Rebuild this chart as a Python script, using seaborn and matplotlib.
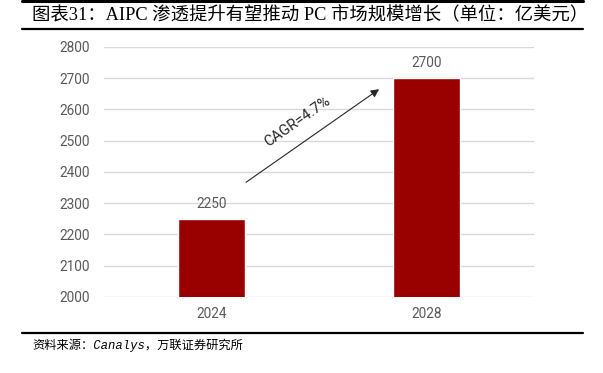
import matplotlib
matplotlib.use("Agg")
import matplotlib.pyplot as plt
import seaborn as sns
import pandas as pd
from matplotlib.lines import Line2D

# data
years = ["2024", "2028"]
market = [2250, 2700]
yticks = [2000, 2100, 2200, 2300, 2400, 2500, 2600, 2700, 2800]
title = "图表31：AIPC 渗透提升有望推动 PC 市场规模增长（单位：亿美元）"
source = "资料来源：Canalys，万联证券研究所"
cagr = "CAGR=4.7%"

sns.set_theme(style="white")
plt.rcParams["font.family"] = ["Roboto", "Noto Sans CJK SC", "DejaVu Sans"]

df = pd.DataFrame({"year": years, "value": market})

fig = plt.figure(figsize=(6.03, 3.73), dpi=100)
ax = fig.add_axes([0.1725, 0.2038, 0.7131, 0.6702])

sns.barplot(data=df, x="year", y="value", color="#990000", width=0.31,
            saturation=1, ax=ax)

ax.set_ylim(2000, 2800)
ax.set_xlim(-0.5, 1.5)
ax.set_yticks(yticks)
ax.set_yticklabels([str(t) for t in yticks])
ax.yaxis.grid(True, color="#d9d9d9", linewidth=1)
ax.set_axisbelow(True)
for s in ax.spines.values():
    s.set_visible(False)
ax.set_xlabel("")
ax.set_ylabel("")
ax.tick_params(axis="both", length=0, labelsize=9.8, colors="#595959")
ax.tick_params(axis="y", pad=10)
ax.tick_params(axis="x", pad=7)

# value labels
for i, v in enumerate(market):
    ax.text(i, v + 25, str(v), ha="center", va="bottom", fontsize=9.8,
            color="#595959")

# growth arrow
ax.annotate("", xy=(0.79, 2670), xytext=(0.15, 2362),
            arrowprops=dict(arrowstyle="-|>", color="#262626", lw=0.8,
                            mutation_scale=12))
ax.text(0.40, 2562, cagr, rotation=35, ha="center", va="center",
        fontsize=10.5, color="#262626", rotation_mode="anchor")

# header / footer
fig.add_artist(Line2D([0.036, 0.967], [0.996, 0.996], color="black", lw=2.2))
fig.add_artist(Line2D([0.036, 0.967], [0.921, 0.921], color="black", lw=1.6))
fig.add_artist(Line2D([0.036, 0.967], [0.107, 0.107], color="black", lw=1.6))
fig.text(0.053, 0.958, title, ha="left", va="center", fontsize=13.2,
         color="black", family=["Liberation Serif", "Noto Sans CJK SC"])
fig.text(0.053, 0.075, source, ha="left", va="center", fontsize=8.8,
         color="black", style="italic",
         family=["Liberation Mono", "Noto Sans CJK SC"])

fig.savefig("out.png", dpi=100)
